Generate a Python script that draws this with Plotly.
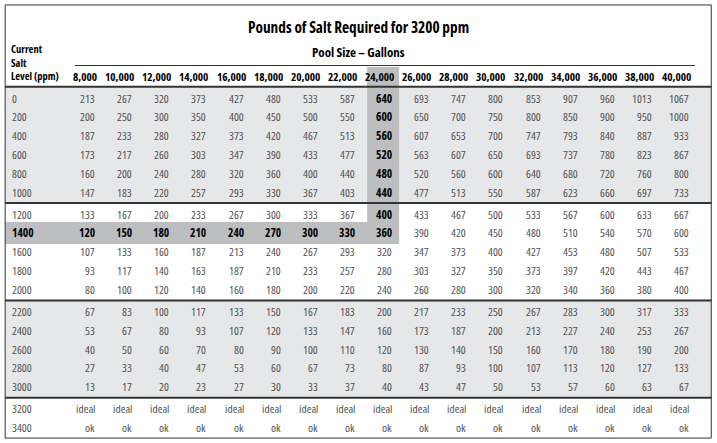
import plotly.graph_objects as go

# Table data
pool_sizes = ["8,000", "10,000", "12,000", "14,000", "16,000", "18,000", "20,000", "22,000", "24,000",
              "26,000", "28,000", "30,000", "32,000", "34,000", "36,000", "38,000", "40,000"]

levels_a = ["0", "200", "400", "600", "800", "1000"]
pounds_a = [
    [213, 267, 320, 373, 427, 480, 533, 587, 640, 693, 747, 800, 853, 907, 960, 1013, 1067],
    [200, 250, 300, 350, 400, 450, 500, 550, 600, 650, 700, 750, 800, 850, 900, 950, 1000],
    [187, 233, 280, 327, 373, 420, 467, 513, 560, 607, 653, 700, 747, 793, 840, 887, 933],
    [173, 217, 260, 303, 347, 390, 433, 477, 520, 563, 607, 650, 693, 737, 780, 823, 867],
    [160, 200, 240, 280, 320, 360, 400, 440, 480, 520, 560, 600, 640, 680, 720, 760, 800],
    [147, 183, 220, 257, 293, 330, 367, 403, 440, 477, 513, 550, 587, 623, 660, 697, 733],
]
levels_b = ["1200", "1400", "1600", "1800", "2000"]
pounds_b = [
    [133, 167, 200, 233, 267, 300, 333, 367, 400, 433, 467, 500, 533, 567, 600, 633, 667],
    [120, 150, 180, 210, 240, 270, 300, 330, 360, 390, 420, 450, 480, 510, 540, 570, 600],
    [107, 133, 160, 187, 213, 240, 267, 293, 320, 347, 373, 400, 427, 453, 480, 507, 533],
    [93, 117, 140, 163, 187, 210, 233, 257, 280, 303, 327, 350, 373, 397, 420, 443, 467],
    [80, 100, 120, 140, 160, 180, 200, 220, 240, 260, 280, 300, 320, 340, 360, 380, 400],
]
levels_c = ["2200", "2400", "2600", "2800", "3000"]
pounds_c = [
    [67, 83, 100, 117, 133, 150, 167, 183, 200, 217, 233, 250, 267, 283, 300, 317, 333],
    [53, 67, 80, 93, 107, 120, 133, 147, 160, 173, 187, 200, 213, 227, 240, 253, 267],
    [40, 50, 60, 70, 80, 90, 100, 110, 120, 130, 140, 150, 160, 170, 180, 190, 200],
    [27, 33, 40, 47, 53, 60, 67, 73, 80, 87, 93, 100, 107, 113, 120, 127, 133],
    [13, 17, 20, 23, 27, 30, 33, 37, 40, 43, 47, 50, 53, 57, 60, 63, 67],
]
levels_d = ["3200", "3400"]
status_d = [["ideal"] * 17, ["ok"] * 17]

groups = [(levels_a, pounds_a), (levels_b, pounds_b), (levels_c, pounds_c), (levels_d, status_d)]
target_col = pool_sizes.index("24,000")
target_level = "1400"

FONT = "Open Sans"
LIGHT = "#e6e7e8"
DARK = "#bcbec0"
TEXT = "#505052"
GAP = 0.18
LEFT, RIGHT = -2.42, 16.6
LABEL_X = -2.24


def cond(t, bold=False):
    if bold:
        t = "<b>%s</b>" % t
    return '<span style="font-stretch:condensed">%s</span>' % t


fig = go.Figure()
shapes = []
ann = []

# row positions with a small gap between groups
row_y = []
r = 0
for g, (levels, vals) in enumerate(groups):
    ys = []
    for _ in levels:
        ys.append(r + GAP * g)
        r += 1
    row_y.append(ys)

bounds = [-0.6]
for g in range(len(groups) - 1):
    bounds.append((row_y[g][-1] + row_y[g + 1][0]) / 2)
bounds.append(18.09)

# shaded groups
for g in (0, 2):
    shapes.append(dict(type="rect", xref="x", yref="y", x0=LEFT, x1=RIGHT, y0=bounds[g], y1=bounds[g + 1],
                       fillcolor=LIGHT, line_width=0, layer="below"))

# highlighted row and column
hy = row_y[1][levels_b.index(target_level)]
shapes.append(dict(type="rect", xref="x", yref="y", x0=LEFT, x1=target_col + 0.19, y0=hy - 0.58, y1=hy + 0.58,
                   fillcolor=DARK, line_width=0, layer="below"))
shapes.append(dict(type="rect", xref="x", yref="y", x0=target_col - 0.67, x1=target_col + 0.19, y0=-1.65, y1=hy - 0.58,
                   fillcolor=DARK, line_width=0, layer="below"))

# rules
for b in bounds[:-1]:
    shapes.append(dict(type="line", xref="x", yref="y", x0=LEFT, x1=RIGHT, y0=b, y1=b,
                       line=dict(color="#333333", width=2)))
shapes.append(dict(type="line", xref="x", yref="y", x0=-0.54, x1=16.16, y0=-1.73, y1=-1.73,
                   line=dict(color="#333333", width=1.2)))
shapes.append(dict(type="rect", xref="x", yref="y", x0=LEFT, x1=RIGHT, y0=-4.95, y1=18.09,
                   line=dict(color="#333333", width=1), fillcolor="rgba(0,0,0,0)"))

# titles
ann.append(dict(x=(LEFT + RIGHT) / 2, y=-3.78, text=cond("Pounds of Salt Required for 3200 ppm", True),
                font=dict(size=15.3, color="black")))
ann.append(dict(x=(LEFT + RIGHT) / 2, y=-2.47, text=cond("Pool Size – Gallons", True),
                font=dict(size=13, color="black")))
ann.append(dict(x=LABEL_X, y=-1.896, text=cond("Current<br>Salt<br>Level (ppm)", True),
                xanchor="left", align="left", xshift=-2, borderpad=0,
                font=dict(size=10.5, color="black")))

# column headers
for i, p in enumerate(pool_sizes):
    ann.append(dict(x=i, y=-1.17, text=cond(p, True), xanchor="right", xshift=4,
                    font=dict(size=11.3, color="black")))

# body
for g, (levels, vals) in enumerate(groups):
    for k, lvl in enumerate(levels):
        y = row_y[g][k]
        is_hl = lvl == target_level
        ann.append(dict(x=LABEL_X, y=y, text=cond(lvl, is_hl), xanchor="left", xshift=-2,
                        font=dict(size=11.5, color="black" if is_hl else TEXT)))
        for i, v in enumerate(vals[k]):
            bold = (is_hl and i <= target_col) or (i == target_col and g == 0) \
                or (i == target_col and g == 1 and k <= levels_b.index(target_level))
            ann.append(dict(x=i, y=y, text=cond(v, bold), xanchor="right", xshift=2,
                            font=dict(size=11.5, color="black" if bold else TEXT)))

for a in ann:
    a.setdefault("xref", "x")
    a.setdefault("yref", "y")
    a.setdefault("showarrow", False)
    a.setdefault("yanchor", "middle")
    a["font"]["family"] = FONT

fig.update_layout(
    width=717, height=443,
    margin=dict(l=0, r=0, t=0, b=0),
    paper_bgcolor="white", plot_bgcolor="white",
    xaxis=dict(range=[-2.559, 16.754], visible=False, fixedrange=True),
    yaxis=dict(range=[18.351, -5.213], visible=False, fixedrange=True),
    shapes=shapes, annotations=ann,
    showlegend=False,
)

# drop the default page margin so the table sits flush with the window
fig.write_html("out.html", config={"displayModeBar": False},
               post_script="document.body.style.margin='0';")
